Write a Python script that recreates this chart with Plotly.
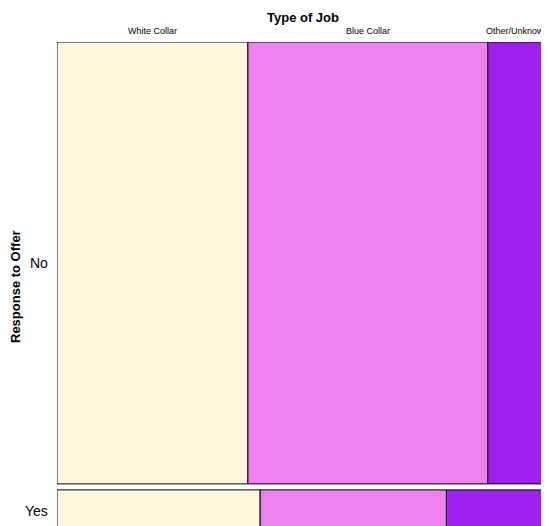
import plotly.graph_objects as go

jobs = ["White Collar", "Blue Collar", "Other/Unknown"]
responses = ["No", "Yes"]
counts_no = [355, 446, 112]
counts_yes = [36, 33, 18]
colors = ["#FFF8DC", "#EE82EE", "#A020F0"]

rows = {"No": counts_no, "Yes": counts_yes}
grand = sum(counts_no) + sum(counts_yes)
gap = 6 / 490
usable = 1 - gap

fig = go.Figure()
annotations = []
top = 1.0
for r in responses:
    vals = rows[r]
    tot = sum(vals)
    h = usable * tot / grand
    center = top - h / 2
    left = 0.0
    for j, v in enumerate(vals):
        w = v / tot
        fig.add_trace(go.Bar(
            y=[center], x=[w], base=[left], width=[h], orientation="h",
            marker=dict(color=colors[j], line=dict(color="black", width=1)),
            showlegend=False, hoverinfo="skip"))
        if r == "No":
            annotations.append(dict(x=left + w / 2, y=1, xref="x", yref="paper",
                                    text=jobs[j], showarrow=False, yanchor="bottom",
                                    yshift=4, font=dict(size=9)))
        left += w
    annotations.append(dict(x=0, y=center, xref="paper", yref="y", text=r,
                            showarrow=False, xanchor="right", xshift=-7,
                            font=dict(size=14)))
    top -= h + gap

annotations.append(dict(x=0.5, y=1, xref="paper", yref="paper", text="<b>Type of Job</b>",
                        showarrow=False, yanchor="bottom", yshift=15, font=dict(size=13)))
annotations.append(dict(x=0, y=0.5, xref="paper", yref="paper", text="<b>Response to Offer</b>",
                        showarrow=False, textangle=-90, xanchor="center", xshift=-42,
                        font=dict(size=13)))

fig.update_layout(
    width=549, height=526, margin=dict(l=49, r=9, t=34, b=2),
    plot_bgcolor="white", paper_bgcolor="white", barmode="overlay",
    font=dict(family="Liberation Sans, Arial, sans-serif", color="black"),
    xaxis=dict(range=[0, 1], visible=False, fixedrange=True),
    yaxis=dict(range=[0, 1], visible=False, fixedrange=True),
    annotations=annotations,
)
fig.write_html("out.html")
